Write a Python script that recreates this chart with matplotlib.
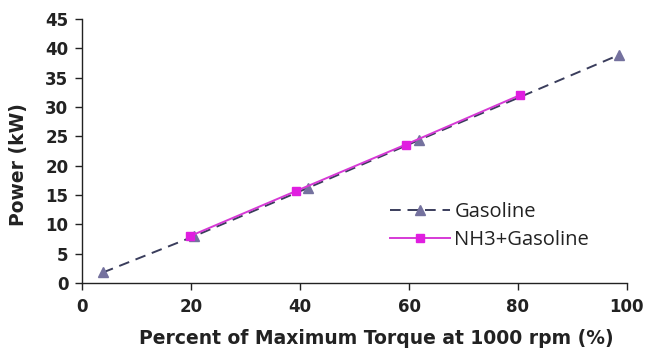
import matplotlib
matplotlib.use("Agg")
import matplotlib.pyplot as plt

gas_x = [3.8, 20.6, 41.4, 61.9, 98.6]
gas_y = [1.8, 8.0, 16.2, 24.4, 38.9]
nh3_x = [19.8, 39.3, 59.4, 80.3]
nh3_y = [8.0, 15.7, 23.6, 32.0]

xticks = [0, 20, 40, 60, 80, 100]
yticks = [0, 5, 10, 15, 20, 25, 30, 35, 40, 45]

fig = plt.figure(figsize=(6.53, 3.52), dpi=100)
ax = fig.add_axes([0.126, 0.196, 0.834, 0.75])

ax.plot(gas_x, gas_y, linestyle=(0, (5.5, 3.5)), color="#3a3d5c", lw=1.4,
        marker="^", markersize=7, markerfacecolor="#74719e",
        markeredgecolor="#74719e", label="Gasoline", zorder=2)
ax.plot(nh3_x, nh3_y, linestyle="-", color="#d63ad6", lw=1.4,
        marker="s", markersize=6, markerfacecolor="#e01ee0",
        markeredgecolor="#e01ee0", label="NH3+Gasoline", zorder=3)

ax.set_xlim(0, 100)
ax.set_ylim(0, 45)
ax.set_xticks(xticks)
ax.set_yticks(yticks)
for s in ["top", "right"]:
    ax.spines[s].set_visible(False)
for s in ["left", "bottom"]:
    ax.spines[s].set_linewidth(1.0)
    ax.spines[s].set_color("#222222")
ax.tick_params(direction="out", length=5, width=1, labelsize=12,
               colors="#222222")
ax.tick_params(axis="y", pad=5)
ax.tick_params(axis="x", pad=6)
for lab in ax.get_xticklabels() + ax.get_yticklabels():
    lab.set_fontfamily("DejaVu Sans")
    lab.set_fontweight("bold")

ax.set_xlabel("Percent of Maximum Torque at 1000 rpm (%)", fontsize=13.5,
              fontweight="bold", family="DejaVu Sans", labelpad=10,
              color="#222222")
ax.xaxis.set_label_coords(0.54, -0.175)
ax.set_ylabel("Power (kW)", fontsize=13.5, fontweight="bold",
              family="DejaVu Sans", labelpad=6, color="#222222")
ax.yaxis.set_label_coords(-0.1, 0.45)

leg = ax.legend(loc="upper left", bbox_to_anchor=(0.565, 0.307), frameon=False,
                prop={"family": "Open Sans", "size": 14.5}, handlelength=3.0,
                handletextpad=0.2, labelspacing=0.4, borderaxespad=0,
                borderpad=0)
for t in leg.get_texts():
    t.set_color("#222222")

fig.savefig("out.png", dpi=100)
